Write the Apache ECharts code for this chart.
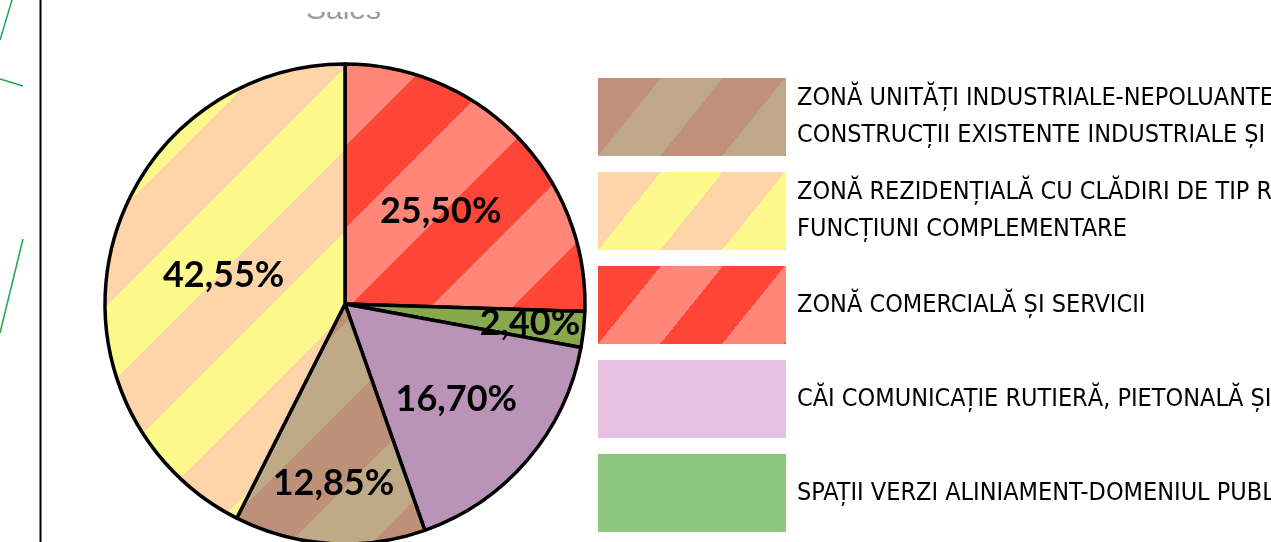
<!DOCTYPE html>
<html>
<head>
<meta charset="utf-8">
<script src="https://cdn.jsdelivr.net/npm/echarts@6/dist/echarts.min.js"></script>
<style>
  html, body { margin: 0; padding: 0; background: #fff; }
  #chart { width: 1271px; height: 542px; }
</style>
</head>
<body>
<div id="chart"></div>
<script>
// ---- Data ----
const sliceNames = [
  'ZONĂ COMERCIALĂ ȘI SERVICII',
  'SPAȚII VERZI ALINIAMENT-DOMENIUL PUBLIC',
  'CĂI COMUNICAȚIE RUTIERĂ, PIETONALĂ ȘI AMENAJĂRI AFERENTE',
  'ZONĂ UNITĂȚI INDUSTRIALE-NEPOLUANTE/\nCONSTRUCȚII EXISTENTE INDUSTRIALE ȘI DEPOZITARE',
  'ZONĂ REZIDENȚIALĂ CU CLĂDIRI DE TIP RURAL ȘI\nFUNCȚIUNI COMPLEMENTARE'
];
const sliceValues = [25.50, 2.40, 16.70, 12.85, 42.55];
const sliceLabels = ['25,50%', '2,40%', '16,70%', '12,85%', '42,55%'];
const legendOrder = [3, 4, 0, 2, 1];
const titleText = 'Sales';

// ---- Styles ----
const labelRadius = [0.555, 0.775, 0.61, 0.75, 0.52];
const R = 240, CX = 345, CY = 304;

// diagonal "/" stripes: colour b where frac(x/px + y/py - phase) < 0.5, else a
function stripes(a, b, px, py, phase) {
  const cv = document.createElement('canvas');
  cv.width = px; cv.height = py;
  const ctx = cv.getContext('2d');
  const img = ctx.createImageData(px, py);
  const pa = hex(a), pb = hex(b);
  for (let y = 0; y < py; y++) {
    for (let x = 0; x < px; x++) {
      let s = x / px + y / py - phase;
      s = s - Math.floor(s);
      const c = s < 0.5 ? pb : pa;
      const k = (y * px + x) * 4;
      img.data[k] = c[0]; img.data[k + 1] = c[1]; img.data[k + 2] = c[2]; img.data[k + 3] = 255;
    }
  }
  ctx.putImageData(img, 0, 0);
  return { image: cv, repeat: 'repeat' };
}
function hex(h) {
  return [parseInt(h.slice(1, 3), 16), parseInt(h.slice(3, 5), 16), parseInt(h.slice(5, 7), 16)];
}

const sliceColors = [
  stripes('#FF8678', '#FF4636', 164, 164, 0.988),
  '#88A84E',
  '#BA93B8',
  stripes('#BFAA88', '#BE907A', 164, 164, 0.573),
  stripes('#FDD5A9', '#FEF98B', 164, 164, 0.512)
];
const legendColors = [
  stripes('#FF8678', '#FF4636', 124, 154, 0),
  '#8EC57F',
  '#E5C0E1',
  stripes('#BFA888', '#C0907A', 124, 154, 0),
  stripes('#FEF98B', '#FDD5A9', 124, 154, 0)
];

const total = sliceValues.reduce((a, b) => a + b, 0);
const midAngles = [];
{
  let acc = 0;
  sliceValues.forEach(v => { midAngles.push((acc + v / 2) / total * 2 * Math.PI); acc += v; });
}

const chart = echarts.init(document.getElementById('chart'), null, { renderer: 'canvas' });
chart.setOption({
  animation: false,
  backgroundColor: '#ffffff',
  title: {
    text: titleText,
    left: 301,
    top: -9,
    textStyle: { fontSize: 30, fontWeight: 'normal', color: '#9a9a9a', fontFamily: 'Liberation Sans, Arial, sans-serif' }
  },
  legend: {
    orient: 'vertical',
    left: 593,
    top: 73,
    itemWidth: 188,
    itemHeight: 78,
    itemGap: 16,
    icon: 'rect',
    selectedMode: false,
    data: legendOrder.map(i => ({ name: sliceNames[i], itemStyle: { color: legendColors[i], borderWidth: 0 } })),
    textStyle: {
      fontFamily: "'Liberation Sans Narrow', 'Arial Narrow', 'DejaVu Sans Condensed', sans-serif",
      fontSize: 25,
      lineHeight: 37,
      color: '#000',
      padding: [0, 0, 0, 6]
    }
  },
  graphic: [
    { type: 'rect', zlevel: 1, z: 100, shape: { x: 280, y: 0, width: 140, height: 12 }, style: { fill: '#fff' } },
    { type: 'line', shape: { x1: 40.5, y1: 0, x2: 40.5, y2: 542 }, style: { stroke: '#000', lineWidth: 2 } },
    { type: 'line', shape: { x1: 12, y1: 0, x2: 0, y2: 40 }, style: { stroke: '#1ea84a', lineWidth: 1.5 } },
    { type: 'line', shape: { x1: 0, y1: 79, x2: 23, y2: 86 }, style: { stroke: '#1ea84a', lineWidth: 1.5 } },
    { type: 'line', shape: { x1: 23, y1: 239, x2: 0, y2: 333 }, style: { stroke: '#1ea84a', lineWidth: 1.5 } }
  ],
  series: [{
    type: 'pie',
    center: [CX, CY],
    radius: R,
    startAngle: 90,
    clockwise: true,
    avoidLabelOverlap: false,
    data: sliceNames.map((n, i) => ({
      name: n,
      value: sliceValues[i],
      itemStyle: { color: sliceColors[i] }
    })),
    itemStyle: { borderColor: '#000', borderWidth: 3.5 },
    label: {
      show: true,
      position: 'inside',
      formatter: p => sliceLabels[p.dataIndex],
      fontFamily: "Lato, 'Open Sans', sans-serif",
      fontWeight: 'bold',
      fontSize: 36,
      color: '#000'
    },
    labelLine: { show: false },
    labelLayout: function (p) {
      const i = p.dataIndex;
      const a = midAngles[i];
      return {
        x: CX + labelRadius[i] * R * Math.sin(a),
        y: CY - labelRadius[i] * R * Math.cos(a),
        align: 'center',
        verticalAlign: 'middle'
      };
    },
    emphasis: { disabled: true }
  }]
});
</script>
</body>
</html>
